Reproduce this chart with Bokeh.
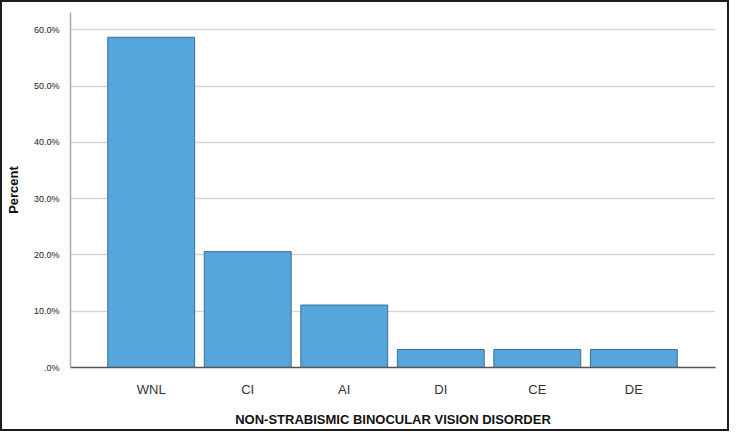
from bokeh.plotting import figure
from bokeh.layouts import column
from bokeh.models import ColumnDataSource, FixedTicker
from bokeh.embed import file_html
from bokeh.resources import INLINE

categories = ["WNL", "CI", "AI", "DI", "CE", "DE"]
percents = [58.7, 20.6, 11.1, 3.2, 3.2, 3.2]
y_ticks = [0, 10, 20, 30, 40, 50, 60]
y_tick_labels = [".0%", "10.0%", "20.0%", "30.0%", "40.0%", "50.0%", "60.0%"]

FONT = "Liberation Sans"

src = ColumnDataSource(dict(x=list(range(len(categories))), top=percents))

p = figure(output_backend="svg", toolbar_location=None,
           frame_width=645, frame_height=355,
           x_range=(-0.836, 5.846), y_range=(0, 63.1))
p.min_border_left = 64
p.min_border_right = 12
p.min_border_top = 10
p.min_border_bottom = 56
p.background_fill_color = "white"
p.border_fill_color = "white"
p.outline_line_color = None

p.vbar(x="x", top="top", width=0.9, bottom=0, source=src,
       fill_color="#56a6dd", line_color="#3b6f91", line_width=1)

p.xgrid.grid_line_color = None
p.ygrid.grid_line_color = "#d6d6d6"
p.ygrid.grid_line_width = 1.5
p.ygrid.ticker = FixedTicker(ticks=y_ticks)

p.xaxis.ticker = FixedTicker(ticks=list(range(len(categories))))
p.xaxis.major_label_overrides = {i: c for i, c in enumerate(categories)}
p.xaxis.major_tick_line_color = None
p.xaxis.minor_tick_line_color = None
p.xaxis.axis_line_color = "#555555"
p.xaxis.axis_line_width = 1.5
p.xaxis.major_label_text_font = FONT
p.xaxis.major_label_text_font_size = "13px"
p.xaxis.major_label_text_color = "#333333"
p.xaxis.major_label_standoff = 8
p.xaxis.axis_label = "NON-STRABISMIC BINOCULAR VISION DISORDER"
p.xaxis.axis_label_text_font = FONT
p.xaxis.axis_label_text_font_size = "13px"
p.xaxis.axis_label_text_font_style = "bold"
p.xaxis.axis_label_text_color = "#111111"
p.xaxis.axis_label_standoff = 12

p.yaxis.ticker = FixedTicker(ticks=y_ticks)
p.yaxis.major_label_overrides = {t: l for t, l in zip(y_ticks, y_tick_labels)}
p.yaxis.major_tick_line_color = None
p.yaxis.minor_tick_line_color = None
p.yaxis.axis_line_color = "#a8a8a8"
p.yaxis.axis_line_width = 1.5
p.yaxis.major_label_text_font = FONT
p.yaxis.major_label_text_font_size = "9px"
p.yaxis.major_label_text_color = "#222222"
p.yaxis.major_label_standoff = 5
p.yaxis.axis_label = "Percent"
p.yaxis.axis_label_text_font = FONT
p.yaxis.axis_label_text_font_size = "13px"
p.yaxis.axis_label_text_font_style = "bold"
p.yaxis.axis_label_text_color = "#111111"
p.yaxis.axis_label_standoff = 10

layout = column(p, styles={"border": "2px solid #1c1c1c"})

open("out.html", "w").write(file_html(layout, INLINE))
